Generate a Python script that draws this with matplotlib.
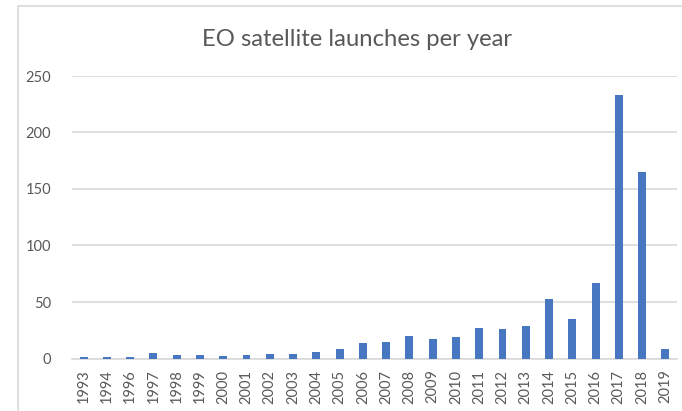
import matplotlib
matplotlib.use("Agg")
import matplotlib.pyplot as plt
from matplotlib.patches import Rectangle

years = ["1993", "1994", "1996", "1997", "1998", "1999", "2000", "2001", "2002",
         "2003", "2004", "2005", "2006", "2007", "2008", "2009", "2010", "2011",
         "2012", "2013", "2014", "2015", "2016", "2017", "2018", "2019"]
launches = [1, 1, 1, 5, 3, 3, 2, 3, 4, 4, 6, 8, 14, 15, 20, 17, 19, 27, 26, 29,
            53, 35, 67, 233, 165, 8]
yticks = [0, 50, 100, 150, 200, 250]
title = "EO satellite launches per year"

plt.rcParams['font.family'] = ['Lato', 'DejaVu Sans']
W, H = 682, 411
fig = plt.figure(figsize=(W / 100, H / 100), dpi=100)
fig.patch.set_facecolor("white")

# outer chart frame
fig.patches.append(Rectangle((18 / W, -0.1), 1.2, 1 - 6 / H + 0.1,
                             transform=fig.transFigure, fill=False,
                             edgecolor="#d9d9d9", linewidth=1.2))

ax = fig.add_axes([72 / W, 1 - 358.5 / H, (677 - 72) / W, (358.5 - 76) / H])
x = list(range(len(years)))
ax.bar(x, launches, width=0.34, color="#4677C0", zorder=3)
ax.set_xlim(-0.5, len(years) - 0.5)
ax.set_ylim(0, 250)
ax.set_yticks(yticks)
ax.set_xticks(x)
ax.set_xticklabels(years, rotation=90)
ax.yaxis.grid(True, color="#d9d9d9", linewidth=1.2, zorder=0)
for s in ["top", "right", "left"]:
    ax.spines[s].set_visible(False)
ax.spines["bottom"].set_color("#d9d9d9")
ax.spines["bottom"].set_linewidth(1.2)
ax.tick_params(axis="both", length=0, labelsize=10.5, colors="#595959")
ax.tick_params(axis="y", pad=15)
ax.tick_params(axis="x", pad=8)

fig.text(357 / W, 1 - 40 / H, title, ha="center", va="center",
         fontsize=17.2, color="#595959")

fig.savefig("out.png", dpi=100, facecolor="white")
